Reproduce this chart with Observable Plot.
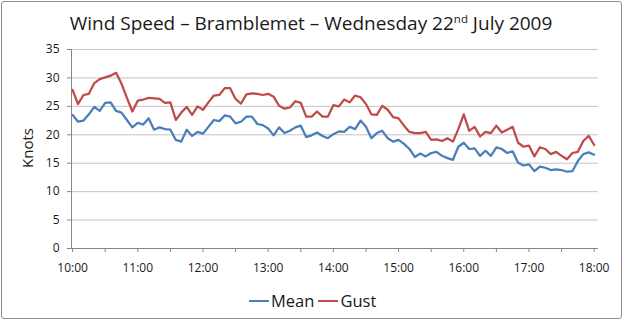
<!DOCTYPE html>
<html><head><meta charset="utf-8">
<script src="https://cdn.jsdelivr.net/npm/d3@7"></script>
<script src="https://cdn.jsdelivr.net/npm/@observablehq/plot@0.6"></script>
<style>
body{margin:0;background:#fff;}
#wrap{position:relative;width:625px;height:324px;font-family:"Open Sans",sans-serif;color:#1a1a1a;overflow:hidden;}
#wrap svg{position:absolute;left:0;top:0;}
#border{position:absolute;left:1px;top:1px;width:619px;height:316px;border:1px solid #8c8c8c;border-radius:3px;}
#title{position:absolute;left:0;width:622px;top:11px;text-align:center;font-size:19px;line-height:24px;white-space:nowrap;}
#title sup{font-size:11.5px;position:relative;top:-7px;vertical-align:baseline;line-height:0;}
#ylabel{position:absolute;left:27px;top:148px;transform:translate(-50%,-50%) rotate(-90deg);font-size:15px;line-height:20px;white-space:nowrap;}
#legend{position:absolute;left:249px;top:291px;display:flex;align-items:center;font-size:16.5px;line-height:20px;white-space:nowrap;}
#legend .sw{display:inline-block;width:20px;height:2px;margin-right:2px;}
</style></head>
<body>
<div id="wrap">
  <div id="chart"></div>
  <div id="border"></div>
  <div id="title">Wind Speed – Bramblemet – Wednesday 22<sup>nd</sup> July 2009</div>
  <div id="ylabel">Knots</div>
  <div id="legend"></div>
</div>
<script>
// Series names and colours
const seriesNames = ["Mean", "Gust"];
const seriesColors = ["#4a7ebb", "#be4b48"];

// Readings every 5 minutes from 10:00 to 18:00 (knots)
const stepMinutes = 5;
const mean = [23.5,22.3,22.5,23.6,24.9,24.2,25.6,25.7,24.2,23.9,22.6,21.3,22.1,21.8,22.9,20.9,21.3,21.0,20.9,19.1,
  18.8,20.9,19.8,20.5,20.2,21.4,22.6,22.4,23.4,23.2,22.0,22.3,23.2,23.2,21.9,21.7,21.1,19.9,21.3,20.3,
  20.7,21.3,21.6,19.6,19.9,20.4,19.8,19.4,20.1,20.6,20.5,21.4,21.0,22.5,21.4,19.4,20.3,20.7,19.4,18.8,
  19.1,18.4,17.5,16.1,16.7,16.2,16.8,17.0,16.3,15.9,15.6,17.9,18.6,17.5,17.6,16.3,17.2,16.3,17.8,17.5,
  16.8,17.1,15.1,14.6,14.8,13.6,14.4,14.2,13.8,13.9,13.8,13.5,13.6,15.4,16.6,16.9,16.5];
const gust = [27.9,25.4,27.0,27.2,29.1,29.8,30.1,30.4,30.9,29.0,26.5,24.1,26.0,26.2,26.5,26.4,26.3,25.6,25.7,22.6,
  23.9,24.9,23.5,25.0,24.4,25.7,26.9,27.0,28.2,28.2,26.3,25.5,27.1,27.3,27.2,27.0,27.2,26.7,25.1,24.6,
  24.8,25.9,25.6,23.2,23.2,24.1,23.2,23.2,25.2,25.0,26.2,25.7,26.9,26.6,25.4,23.6,23.5,25.1,24.4,23.1,
  22.9,21.6,20.5,20.3,20.3,20.5,19.1,19.2,18.9,19.4,18.8,21.0,23.6,20.7,21.4,19.7,20.5,20.3,21.6,20.4,
  20.9,21.4,18.6,17.9,18.1,16.2,17.8,17.5,16.6,17.0,16.3,15.7,16.8,17.0,18.9,19.8,18.2];

// Axis labels
const hourLabels = ["10:00","11:00","12:00","13:00","14:00","15:00","16:00","17:00","18:00"];
const yTicks = [0,5,10,15,20,25,30,35];

const rows = mean.map((m, i) => ({t: i * stepMinutes, mean: m, gust: gust[i]}));
const tickMinutes = d3.range(0, (hourLabels.length - 1) * 60 + 1, 30);
const xDomain = [-1, 484];

const plot = Plot.plot({
  width: 625,
  height: 324,
  marginLeft: 71,
  marginRight: 27,
  marginTop: 49,
  marginBottom: 76,
  style: {fontFamily: '"Open Sans", sans-serif', fontSize: "12px", color: "#1a1a1a", background: "transparent"},
  x: {type: "linear", domain: xDomain},
  y: {domain: [0, 35]},
  marks: [
    Plot.ruleY(yTicks.filter(d => d > 0), {stroke: "#c4c4c4", strokeWidth: 1}),
    Plot.axisY({ticks: yTicks, tickSize: 4, tickPadding: 8, label: null, stroke: "#868686", fontSize: 12}),
    Plot.axisX({ticks: tickMinutes, tickSize: 4, tickPadding: 11, label: null, stroke: "#868686", fontSize: 12,
      tickFormat: d => d % 60 === 0 ? hourLabels[d / 60] : ""}),
    Plot.ruleY([0], {stroke: "#868686"}),
    Plot.ruleX([xDomain[0]], {stroke: "#868686"}),
    Plot.lineY(rows, {x: "t", y: "mean", stroke: seriesColors[0], strokeWidth: 2.25}),
    Plot.lineY(rows, {x: "t", y: "gust", stroke: seriesColors[1], strokeWidth: 2.25})
  ]
});
document.getElementById("chart").appendChild(plot);

const legend = document.getElementById("legend");
seriesNames.forEach((name, i) => {
  const sw = document.createElement("span");
  sw.className = "sw";
  sw.style.background = seriesColors[i];
  const tx = document.createElement("span");
  tx.textContent = name;
  tx.style.marginRight = i === 0 ? "4px" : "0";
  legend.appendChild(sw);
  legend.appendChild(tx);
});
</script>
</body></html>
